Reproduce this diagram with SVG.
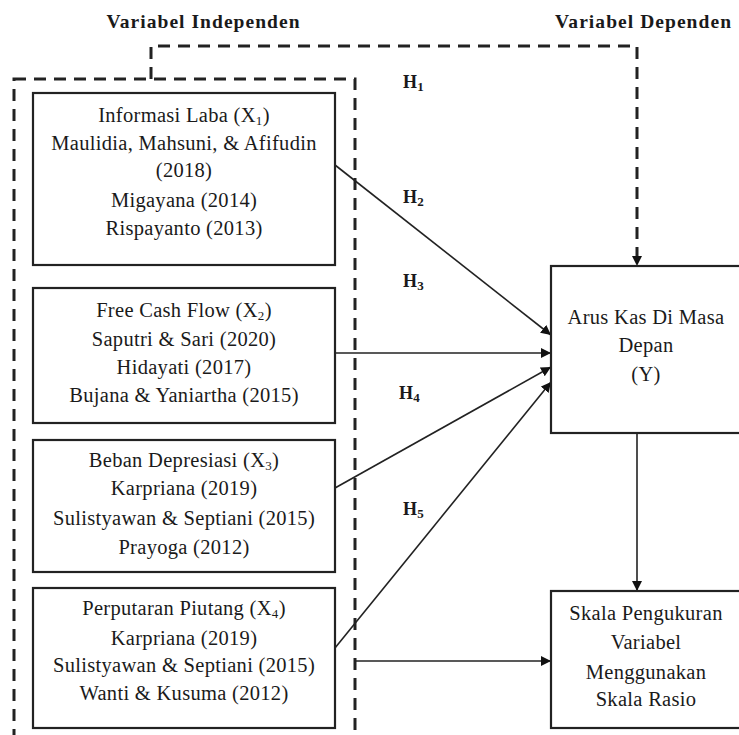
<svg xmlns="http://www.w3.org/2000/svg" width="739" height="735" viewBox="0 0 739 735">
<style>
text{font-family:"Liberation Serif","Times New Roman",serif;font-size:20.5px;letter-spacing:0.3px;fill:#1a1a1a;text-anchor:middle}
.b{font-weight:bold;font-size:19.5px;letter-spacing:0}
.h{text-anchor:start;font-weight:bold;font-size:18px}
.box{fill:#fff;stroke:#222;stroke-width:2.2}
.dash{fill:none;stroke:#222;stroke-width:3;stroke-dasharray:12 8}
.ln{fill:none;stroke:#222;stroke-width:1.6}
.s{font-size:13px}
</style>
<defs>
<marker id="ah" viewBox="0 0 10 10" refX="10" refY="5" markerWidth="10" markerHeight="10" markerUnits="userSpaceOnUse" orient="auto">
<path d="M0,0 L10,5 L0,10 z" fill="#111"/>
</marker>
</defs>
<text class="b" x="203" y="28" textLength="193">Variabel Independen</text>
<text class="b" x="643" y="28" textLength="176">Variabel Dependen</text>
<g id="connectors">
<rect class="dash" x="14" y="79" width="341" height="680"/>
<path class="dash" d="M151,79 V46 H637 V256" />
<path d="M632,256 L642,256 L637,266 z" fill="#111"/>
<line class="ln" x1="335" y1="165" x2="551" y2="335" marker-end="url(#ah)"/>
<line class="ln" x1="335" y1="353" x2="551" y2="353" marker-end="url(#ah)"/>
<line class="ln" x1="335" y1="488" x2="551" y2="367" marker-end="url(#ah)"/>
<line class="ln" x1="335" y1="648" x2="551" y2="382" marker-end="url(#ah)"/>
<line class="ln" x1="355" y1="661" x2="551" y2="661" marker-end="url(#ah)"/>
<line class="ln" x1="637" y1="433" x2="637" y2="591" marker-end="url(#ah)"/>
</g>
<g id="labels">
<text class="h" x="403" y="88">H<tspan class="s" dy="3">1</tspan></text>
<text class="h" x="403" y="203">H<tspan class="s" dy="3">2</tspan></text>
<text class="h" x="403" y="287">H<tspan class="s" dy="3">3</tspan></text>
<text class="h" x="399" y="399">H<tspan class="s" dy="3">4</tspan></text>
<text class="h" x="403" y="515">H<tspan class="s" dy="3">5</tspan></text>
</g>
<g id="x1">
<rect class="box" x="33" y="93" width="302" height="172"/>
<text x="184" y="122">Informasi Laba (X<tspan class="s" dy="3">1</tspan><tspan dy="-3">)</tspan></text>
<text x="184" y="150">Maulidia, Mahsuni, &amp; Afifudin</text>
<text x="184" y="177">(2018)</text>
<text x="184" y="207">Migayana (2014)</text>
<text x="184" y="235">Rispayanto (2013)</text>
</g>
<g id="x2">
<rect class="box" x="33" y="288" width="302" height="135"/>
<text x="184" y="317">Free Cash Flow (X<tspan class="s" dy="3">2</tspan><tspan dy="-3">)</tspan></text>
<text x="184" y="346">Saputri &amp; Sari (2020)</text>
<text x="184" y="374">Hidayati (2017)</text>
<text x="184" y="402">Bujana &amp; Yaniartha (2015)</text>
</g>
<g id="x3">
<rect class="box" x="33" y="440" width="302" height="132"/>
<text x="184" y="467">Beban Depresiasi (X<tspan class="s" dy="3">3</tspan><tspan dy="-3">)</tspan></text>
<text x="184" y="495">Karpriana (2019)</text>
<text x="184" y="525">Sulistyawan &amp; Septiani (2015)</text>
<text x="184" y="554">Prayoga (2012)</text>
</g>
<g id="x4">
<rect class="box" x="33" y="588" width="302" height="140"/>
<text x="184" y="615">Perputaran Piutang (X<tspan class="s" dy="3">4</tspan><tspan dy="-3">)</tspan></text>
<text x="184" y="645">Karpriana (2019)</text>
<text x="184" y="672">Sulistyawan &amp; Septiani (2015)</text>
<text x="184" y="700">Wanti &amp; Kusuma (2012)</text>
</g>
<g id="y">
<rect class="box" x="551" y="266" width="200" height="167"/>
<text x="646" y="324">Arus Kas Di Masa</text>
<text x="646" y="352">Depan</text>
<text x="646" y="381">(Y)</text>
</g>
<g id="skala">
<rect class="box" x="551" y="591" width="200" height="137"/>
<text x="646" y="620">Skala Pengukuran</text>
<text x="646" y="649">Variabel</text>
<text x="646" y="679">Menggunakan</text>
<text x="646" y="706">Skala Rasio</text>
</g>
</svg>
